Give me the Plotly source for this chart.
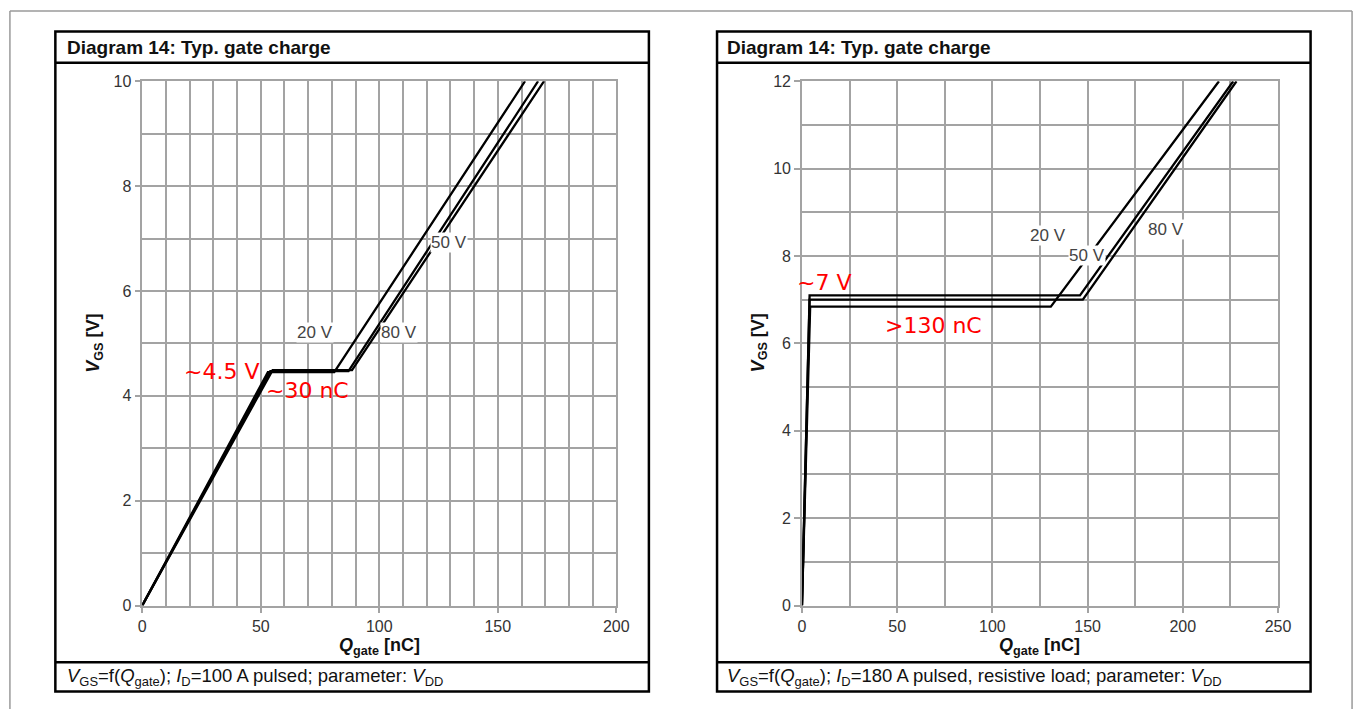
import plotly.graph_objects as go

# ---------------- data ----------------
# Left diagram (ID = 100 A)
left_series = ["20 V", "50 V", "80 V"]
left_q_20 = [0, 53, 81, 161.5]
left_v_20 = [0, 4.45, 4.45, 10]
left_q_50 = [0, 54, 87, 167]
left_v_50 = [0, 4.47, 4.47, 10]
left_q_80 = [0, 55, 88.5, 169.5]
left_v_80 = [0, 4.49, 4.49, 10]

# Right diagram (ID = 180 A)
right_series = ["20 V", "50 V", "80 V"]
right_q_20 = [0, 4.3, 130.7, 219]
right_v_20 = [0, 6.84, 6.84, 12]
right_q_50 = [0, 4.0, 146, 226.5]
right_v_50 = [0, 7.10, 7.10, 12]
right_q_80 = [0, 4.0, 147.5, 228.2]
right_v_80 = [0, 7.00, 7.00, 12]

# series label positions (data units)
left_label_q = [72.9, 129.6, 108.3]
left_label_v = [5.2, 6.93, 5.2]
right_label_q = [129.1, 149.9, 191.4]
right_label_v = [8.47, 8.02, 8.6]

# red remarks
left_notes = ["~4.5 V", "~30 nC"]
left_note_q = [33.3, 69.6]
left_note_v = [4.47, 4.1]
right_notes = ["~7 V", ">130 nC"]
right_note_q = [11.4, 69]
right_note_v = [7.4, 6.41]

left_xticks = [0, 50, 100, 150, 200]
left_yticks = [0, 2, 4, 6, 8, 10]
right_xticks = [0, 50, 100, 150, 200, 250]
right_yticks = [0, 2, 4, 6, 8, 10, 12]

title_text = "<b>Diagram 14: Typ. gate charge</b>"
left_footer = ("<i>V</i><sub>GS</sub>=f(<i>Q</i><sub>gate</sub>); "
               "<i>I</i><sub>D</sub>=100 A pulsed; parameter: <i>V</i><sub>DD</sub>")
right_footer = ("<i>V</i><sub>GS</sub>=f(<i>Q</i><sub>gate</sub>); "
                "<i>I</i><sub>D</sub>=180 A pulsed, resistive load; parameter: <i>V</i><sub>DD</sub>")
x_title = "<b><i>Q</i><sub>gate</sub> [nC]</b>"
y_title = "<b><i>V</i><sub>GS</sub> [V]</b>"

# ---------------- layout helpers ----------------
W, H = 1370, 718
def px(x):
    return x / W
def py(y):
    return 1 - y / H

FONT = "Liberation Sans, Arial, sans-serif"
GRID = "#a3a3a3"
LINE_W = 2.3

fig = go.Figure()

for q, v in [(left_q_20, left_v_20), (left_q_50, left_v_50), (left_q_80, left_v_80)]:
    fig.add_trace(go.Scatter(x=q, y=v, mode="lines", xaxis="x", yaxis="y",
                             line=dict(color="black", width=LINE_W), showlegend=False))
for q, v in [(right_q_20, right_v_20), (right_q_50, right_v_50), (right_q_80, right_v_80)]:
    fig.add_trace(go.Scatter(x=q, y=v, mode="lines", xaxis="x2", yaxis="y2",
                             line=dict(color="black", width=LINE_W), showlegend=False))

ydom = [py(612), py(75)]

def xaxis(domain, rng, ticks, minor):
    return dict(domain=domain, range=rng, tickvals=ticks, showgrid=True, gridcolor=GRID,
                gridwidth=1.5, minor=dict(dtick=minor, tick0=0, showgrid=True, gridcolor=GRID,
                                           gridwidth=1.5),
                ticks="outside", ticklen=6, tickwidth=1.5, tickcolor=GRID,
                showline=True, mirror=True, linecolor=GRID, linewidth=1.5, zeroline=False,
                tickfont=dict(family=FONT, size=16, color="#333333"), fixedrange=True)

def yaxis(anchor, rng, ticks):
    return dict(domain=ydom, range=rng, tickvals=ticks, anchor=anchor, showgrid=True,
                gridcolor=GRID, gridwidth=1.5,
                minor=dict(dtick=1, tick0=0, showgrid=True, gridcolor=GRID, gridwidth=1.5),
                ticks="outside", ticklen=6, tickwidth=1.5, tickcolor=GRID,
                showline=True, mirror=True, linecolor=GRID, linewidth=1.5, zeroline=False,
                tickfont=dict(family=FONT, size=16, color="#333333"), fixedrange=True)

layout = dict(
    width=W, height=H, margin=dict(l=0, r=0, t=0, b=0),
    paper_bgcolor="white", plot_bgcolor="white",
    xaxis=dict(xaxis([px(140), px(620)], [0, 200], left_xticks, 10), anchor="y"),
    yaxis=yaxis("x", [0, 10], left_yticks),
    xaxis2=dict(xaxis([px(808), px(1290)], [0, 250], right_xticks, 25), anchor="y2"),
    yaxis2=yaxis("x2", [0, 12], right_yticks),
)
fig.update_layout(**layout)

shapes = []
# outer gray frame (top, left, right)
for x0, y0, x1, y1 in [(6, 3, 1365, 3), (6, 3, 6, 718), (1365, 3, 1365, 718)]:
    shapes.append(dict(type="line", xref="paper", yref="paper", x0=px(x0), y0=py(y0),
                       x1=px(x1), y1=py(y1), line=dict(color="#9a9a9a", width=1.5)))
# panel boxes
for bx0, bx1 in [(52, 653), (722, 1323)]:
    shapes.append(dict(type="rect", xref="paper", yref="paper", x0=px(bx0), y0=py(700),
                       x1=px(bx1), y1=py(24), line=dict(color="black", width=2.5)))
    for yy in (56, 670):
        shapes.append(dict(type="line", xref="paper", yref="paper", x0=px(bx0), y0=py(yy),
                           x1=px(bx1), y1=py(yy), line=dict(color="black", width=2.5)))
fig.update_layout(shapes=shapes)

ann = []
for x0, foot in [(62, left_footer), (730, right_footer)]:
    ann.append(dict(text=title_text, xref="paper", yref="paper", x=px(x0), y=py(40),
                    xanchor="left", yanchor="middle", showarrow=False,
                    font=dict(family=FONT, size=19, color="#111111")))
    ann.append(dict(text=foot, xref="paper", yref="paper", x=px(x0), y=py(685),
                    xanchor="left", yanchor="middle", showarrow=False,
                    font=dict(family=FONT, size=18.5, color="#111111")))
for cx in (380, 1049):
    ann.append(dict(text=x_title, xref="paper", yref="paper", x=px(cx), y=py(654),
                    xanchor="center", yanchor="middle", showarrow=False,
                    font=dict(family=FONT, size=18, color="#111111")))
for cx in (92, 765):
    ann.append(dict(text=y_title, xref="paper", yref="paper", x=px(cx), y=py(343),
                    xanchor="center", yanchor="middle", showarrow=False, textangle=-90,
                    font=dict(family=FONT, size=18, color="#111111")))

for names, qs, vs, xr, yr in [(left_series, left_label_q, left_label_v, "x", "y"),
                              (right_series, right_label_q, right_label_v, "x2", "y2")]:
    for n, q, v in zip(names, qs, vs):
        ann.append(dict(text=n, xref=xr, yref=yr, x=q, y=v, showarrow=False,
                        bgcolor="white", borderpad=0,
                        font=dict(family=FONT, size=17, color="#444444")))

for names, qs, vs, xr, yr in [(left_notes, left_note_q, left_note_v, "x", "y"),
                              (right_notes, right_note_q, right_note_v, "x2", "y2")]:
    for n, q, v in zip(names, qs, vs):
        ann.append(dict(text=n, xref=xr, yref=yr, x=q, y=v, showarrow=False,
                        font=dict(family="DejaVu Sans", size=22, color="#ff0000")))

fig.update_layout(annotations=ann)
fig.write_html("out.html",
               post_script="document.body.style.margin='0';document.body.style.overflow='hidden';")
